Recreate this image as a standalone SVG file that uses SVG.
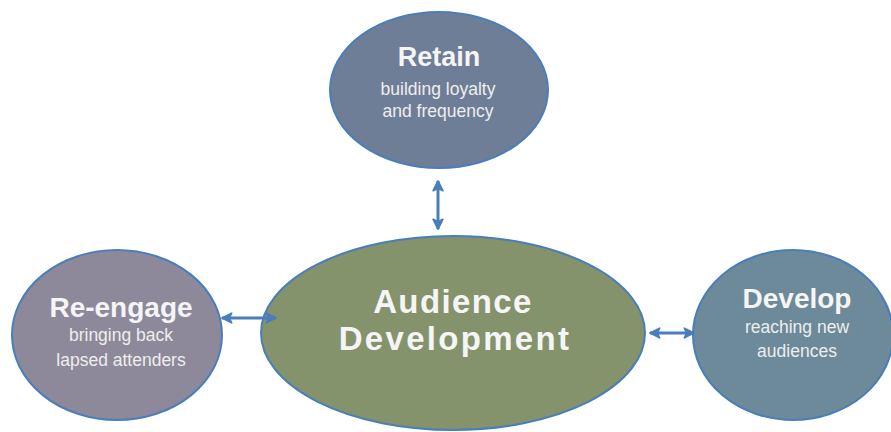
<svg xmlns="http://www.w3.org/2000/svg" width="891" height="432" viewBox="0 0 891 432">
<defs>
<marker id="ah" viewBox="0 0 10 10" refX="9" refY="5" markerWidth="4" markerHeight="4" orient="auto-start-reverse" markerUnits="strokeWidth">
<path d="M1,1 L9,5 L1,9 L3,5 Z" fill="#4a7ebb" stroke="#4a7ebb" stroke-width="1.5" stroke-linejoin="round"/>
</marker>
<style>
.node{stroke:#4a7ebb;stroke-width:2}
.title{font-family:"Liberation Sans",Arial,sans-serif;font-weight:bold;fill:#f5f5f5;text-anchor:middle}
.sub{font-family:"Liberation Sans",Arial,sans-serif;fill:#eeeeee;text-anchor:middle;font-size:17.5px}
.conn{stroke:#4a7ebb;stroke-width:3;fill:none}
</style>
</defs>
<rect width="891" height="432" fill="#ffffff"/>
<g id="retain">
<ellipse class="node" cx="439" cy="90" rx="109" ry="78" fill="#6f7e97"/>
<text class="title" x="439" y="66" font-size="27">Retain</text>
<text class="sub" x="438" y="95">building loyalty</text>
<text class="sub" x="438" y="117">and frequency</text>
</g>
<g id="audience-development">
<ellipse class="node" cx="453" cy="333" rx="192" ry="97" fill="#84936b"/>
<text class="title" x="453" y="313" font-size="33" letter-spacing="1.4">Audience</text>
<text class="title" x="455" y="350" font-size="33" letter-spacing="2.3">Development</text>
</g>
<g id="re-engage">
<ellipse class="node" cx="117" cy="335" rx="105" ry="85" fill="#8d899b"/>
<text class="title" x="121" y="317" font-size="28">Re-engage</text>
<text class="sub" x="121" y="341">bringing back</text>
<text class="sub" x="121" y="366">lapsed attenders</text>
</g>
<g id="develop">
<ellipse class="node" cx="793" cy="335" rx="100" ry="85" fill="#6c8a99"/>
<text class="title" x="797" y="308" font-size="28">Develop</text>
<text class="sub" x="797" y="333">reaching new</text>
<text class="sub" x="797" y="357">audiences</text>
</g>
<g id="connectors">
<line class="conn" x1="438" y1="181" x2="438" y2="229" marker-start="url(#ah)" marker-end="url(#ah)"/>
<line class="conn" x1="222" y1="318" x2="276" y2="318" marker-start="url(#ah)" marker-end="url(#ah)"/>
<line class="conn" x1="650" y1="333" x2="694" y2="333" marker-start="url(#ah)" marker-end="url(#ah)"/>
</g>
</svg>
